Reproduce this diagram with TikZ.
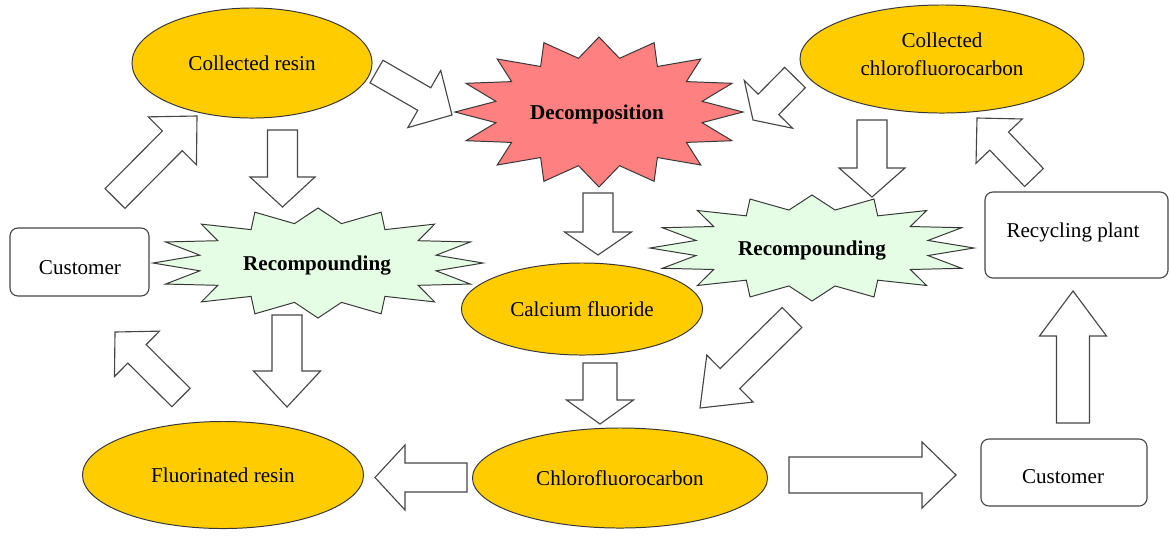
\documentclass[tikz,border=0pt]{standalone}
\usepackage{fontspec}
\setmainfont{Liberation Serif}
\usetikzlibrary{calc,shapes.geometric}
\definecolor{gold}{RGB}{255,204,0}
\definecolor{salmon}{RGB}{255,128,128}
\definecolor{mint}{RGB}{228,253,228}
\definecolor{edge}{RGB}{55,55,55}
\definecolor{aedge}{RGB}{70,70,70}
\tikzset{
  txt/.style={font=\fontsize{15}{20}\selectfont, align=center},
  oval/.style={ellipse, draw=edge, line width=0.7pt, fill=gold, inner sep=0pt, txt},
  roundbox/.style={draw=aedge, line width=0.8pt, rounded corners=0.2cm, fill=white, inner sep=0pt, txt},
  burststyle/.style={draw=edge, line width=0.7pt, line join=miter},
  bursttext/.style={txt, font=\fontsize{15}{20}\selectfont\bfseries},
  blockarrow/.style={draw=aedge, line width=0.8pt, fill=white, line join=miter}
}
% tail, tip, shaft half width, head half width, head length (in px)
\newcommand{\barrow}[5]{%
  \coordinate (bh) at ($(#2)!#5*0.025cm!(#1)$);
  \draw[blockarrow] ($(#1)!#3*0.025cm!90:(#2)$) -- ($(bh)!#3*0.025cm!90:(#2)$) -- ($(bh)!#4*0.025cm!90:(#2)$) -- (#2) -- ($(bh)!#4*0.025cm!-90:(#2)$) -- ($(bh)!#3*0.025cm!-90:(#2)$) -- ($(#1)!#3*0.025cm!-90:(#2)$) -- cycle;
}
% cx, cy, a, b, fill
\newcommand{\burst}[5]{%
  \draw[burststyle, fill=#5] plot[samples at={0,...,31}, variable=\k]
    ({#1+#3*(1-0.27*mod(\k,2))*cos(90+\k*11.25)}, {#2+#4*(1-0.27*mod(\k,2))*sin(90+\k*11.25)}) -- cycle;
}
\begin{document}
\begin{tikzpicture}[x=0.025cm, y=-0.025cm]
\useasboundingbox (0,0) rectangle (1170,535);

% ellipses
\node[oval, minimum width=6cm, minimum height=2.75cm] (cresin) at (252,63) {Collected resin};
\node[oval, minimum width=7.1cm, minimum height=2.7cm] (ccfc) at (942,59) {};
\node[txt] (ccfct) at (942,54) {Collected\\chlorofluorocarbon};
\node[oval, minimum width=6.025cm, minimum height=2.3cm] (caf) at (582,309) {Calcium fluoride};
\node[oval, minimum width=7.375cm, minimum height=2.5cm] (cfc) at (620,478) {Chlorofluorocarbon};
\node[oval, minimum width=7.025cm, minimum height=2.675cm] (fres) at (223,475) {Fluorinated resin};

% starbursts
\burst{599}{112}{144}{75}{salmon}
\node[bursttext] (decomp) at (597,114) {Decomposition};
\burst{318}{263}{165}{55}{mint}
\node[bursttext] (recl) at (317,266) {Recompounding};
\burst{812}{248}{162}{53}{mint}
\node[bursttext] (recr) at (812,251) {Recompounding};

% boxes
\node[roundbox, minimum width=3.475cm, minimum height=1.7cm] (custl) at (79.5,262) {};
\node[txt] at (80,268) {Customer};
\node[roundbox, minimum width=4.575cm, minimum height=2.15cm] (recyc) at (1076.5,235) {};
\node[txt] at (1073,232) {Recycling plant};
\node[roundbox, minimum width=4.15cm, minimum height=1.675cm] (custr) at (1064,472.5) {};
\node[txt] at (1063,477) {Customer};

% arrow end coordinates
\coordinate (a1s) at (376.5,71.5);  \coordinate (a1e) at (452,115);
\coordinate (a2s) at (795,77.5);    \coordinate (a2e) at (753,120);
\coordinate (a3s) at (282.5,130);   \coordinate (a3e) at (282.5,207);
\coordinate (a4s) at (115,198.5);   \coordinate (a4e) at (197,116);
\coordinate (a5s) at (872,120);     \coordinate (a5e) at (872,197);
\coordinate (a6s) at (1034,177.5);  \coordinate (a6e) at (977,118);
\coordinate (a7s) at (598,193);     \coordinate (a7e) at (598,255);
\coordinate (a8s) at (287,315);     \coordinate (a8e) at (287,407);
\coordinate (a9s) at (181,397.5);   \coordinate (a9e) at (115,332);
\coordinate (a10s) at (600,363);    \coordinate (a10e) at (600,424);
\coordinate (a11s) at (792,317.5);  \coordinate (a11e) at (700,408);
\coordinate (a12s) at (467,477.5);  \coordinate (a12e) at (375,477.5);
\coordinate (a13s) at (789,475);    \coordinate (a13e) at (956,475);
\coordinate (a14s) at (1073,423);   \coordinate (a14e) at (1073,291);

\barrow{a1s}{a1e}{13}{33}{32}
\barrow{a2s}{a2e}{14.5}{34}{22}
\barrow{a3s}{a3e}{15}{32.5}{30}
\barrow{a4s}{a4e}{14}{34}{35}
\barrow{a5s}{a5e}{15}{33}{29}
\barrow{a6s}{a6e}{13}{32}{32}
\barrow{a7s}{a7e}{15}{33.5}{23}
\barrow{a8s}{a8e}{15}{33.5}{36}
\barrow{a9s}{a9e}{13}{32}{31}
\barrow{a10s}{a10e}{17}{33.5}{24}
\barrow{a11s}{a11e}{14}{33}{42}
\barrow{a12s}{a12e}{14.5}{32.5}{30}
\barrow{a13s}{a13e}{18}{33}{34}
\barrow{a14s}{a14e}{16.5}{33.5}{45}
\end{tikzpicture}
\end{document}
